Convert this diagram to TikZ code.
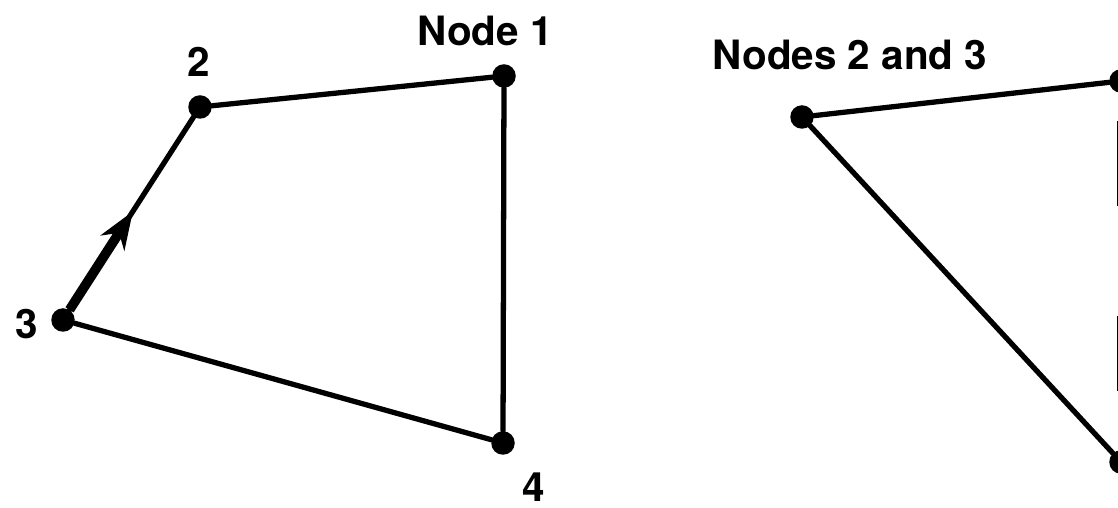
\documentclass[tikz,border=0pt]{standalone}
\usepackage{fontspec}
\setmainfont{TeX Gyre Heros}
\usetikzlibrary{arrows.meta,calc,positioning}

\begin{document}
\begin{tikzpicture}[
      dot/.style={circle,fill=black,inner sep=0pt,minimum size=0.47cm},
      lbl/.style={font=\fontsize{23}{27}\selectfont\bfseries,inner sep=0pt},
      edge/.style={line width=3pt,line cap=round},
      flow/.style={line width=5.5pt,-{Stealth[length=7.5mm,width=5.6mm,inset=2.4mm]}}
    ]
    \useasboundingbox (0,0) rectangle (22.36,10.16);
    % left element
    \node[dot] (n1) at (10.08,8.64) {};
    \node[dot] (n2) at (4.00,8.02) {};
    \node[dot] (n3) at (1.26,3.76) {};
    \node[dot] (n4) at (10.06,1.30) {};
    \node[lbl] (l1) at (9.70,9.54) {Node 1};
    \node[lbl] (l2) at (3.98,8.92) {2};
    \node[lbl] (l3) at (0.54,3.68) {3};
    \node[lbl] (l4) at (10.68,0.42) {4};
    \draw[edge] (n2) -- (n1);
    \draw[edge] (n1) -- (n4);
    \draw[edge] (n4) -- (n3);
    \draw[edge] (n3) -- (n2);
    \coordinate (tip) at ($(n3)!0.51!(n2)$);
    \draw[flow] (n3) -- (tip);
    % right element (cut at the edge)
    \node[dot] (r23) at (16.04,7.82) {};
    \node[dot] (r1) at (22.42,8.54) {};
    \node[dot] (r4) at (22.42,0.92) {};
    \node[lbl] (l23) at (17.00,9.06) {Nodes 2 and 3};
    \draw[edge] (r23) -- (r1);
    \draw[edge] (r23) -- (r4);
    \draw[line width=4.6pt,dash pattern=on 0pt off 0.56cm on 1.7cm off 2.2cm on 1.5cm off 2cm]
      (r1) -- (r4);
  \end{tikzpicture}
\end{document}
